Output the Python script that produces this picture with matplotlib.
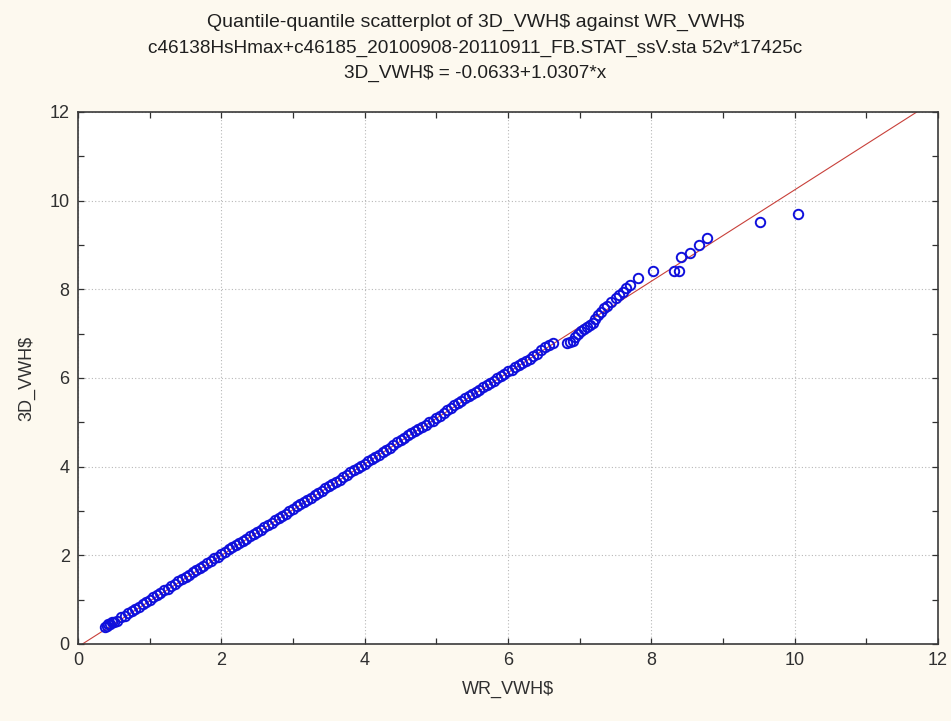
import matplotlib
matplotlib.use("Agg")
import matplotlib.pyplot as plt
import numpy as np
from matplotlib.ticker import MultipleLocator

# Quantile-quantile points
wr_vwh = [0.37, 0.40, 0.42, 0.45, 0.47, 0.50, 0.55, 0.60, 0.65, 0.70, 0.75, 0.80, 0.85, 0.90, 0.95,
          1.00, 1.05, 1.10, 1.15, 1.20, 1.25, 1.30, 1.35, 1.40, 1.45, 1.50, 1.55,
          1.60, 1.65, 1.70, 1.75, 1.80, 1.85, 1.90, 1.95, 2.00,
          2.05, 2.10, 2.15, 2.20, 2.25, 2.30, 2.35, 2.40, 2.45, 2.50, 2.55, 2.60,
          2.65, 2.70, 2.75, 2.80, 2.85, 2.90, 2.95, 3.00,
          3.05, 3.10, 3.15, 3.20, 3.25, 3.30, 3.35, 3.40, 3.45, 3.50, 3.55, 3.60,
          3.65, 3.70, 3.75, 3.80, 3.85, 3.90, 3.95, 4.00,
          4.05, 4.10, 4.15, 4.20, 4.25, 4.30, 4.35, 4.40, 4.45, 4.50, 4.55, 4.60,
          4.65, 4.70, 4.75, 4.80, 4.85, 4.90, 4.95, 5.00,
          5.05, 5.10, 5.15, 5.20, 5.25, 5.30, 5.35, 5.40, 5.45, 5.50, 5.55, 5.60,
          5.65, 5.70, 5.75, 5.80, 5.85, 5.90, 5.95, 6.00,
          6.05, 6.10, 6.15, 6.20, 6.25, 6.30, 6.35, 6.40, 6.46, 6.52, 6.57, 6.63,
          6.82, 6.86, 6.90, 6.94, 6.98, 7.02, 7.06, 7.10, 7.14, 7.18, 7.22, 7.26,
          7.30, 7.34, 7.38, 7.44, 7.50, 7.55, 7.60, 7.65, 7.70, 7.82, 8.03, 8.32,
          8.38, 8.41, 8.54, 8.66, 8.77, 9.52, 10.04]

d3_vwh = [0.39, 0.40, 0.46, 0.44, 0.50, 0.49, 0.53, 0.60, 0.64, 0.70, 0.74, 0.80, 0.84, 0.90, 0.95,
          1.00, 1.05, 1.11, 1.15, 1.21, 1.25, 1.31, 1.36, 1.42, 1.46, 1.52, 1.56,
          1.62, 1.67, 1.72, 1.77, 1.83, 1.87, 1.93, 1.97, 2.03,
          2.08, 2.14, 2.18, 2.23, 2.27, 2.33, 2.37, 2.43, 2.48, 2.53, 2.58, 2.63,
          2.68, 2.74, 2.79, 2.84, 2.88, 2.94, 2.99, 3.05,
          3.11, 3.16, 3.20, 3.25, 3.30, 3.36, 3.40, 3.46, 3.51, 3.57, 3.61, 3.66,
          3.71, 3.77, 3.81, 3.87, 3.92, 3.97, 4.02, 4.07,
          4.12, 4.17, 4.22, 4.27, 4.33, 4.38, 4.43, 4.49, 4.55, 4.60, 4.65, 4.71,
          4.76, 4.80, 4.85, 4.90, 4.94, 5.00, 5.04, 5.09,
          5.15, 5.21, 5.27, 5.33, 5.38, 5.43, 5.49, 5.55, 5.59, 5.64, 5.69, 5.74,
          5.80, 5.85, 5.89, 5.94, 5.99, 6.05, 6.10, 6.15,
          6.19, 6.24, 6.29, 6.33, 6.38, 6.43, 6.49, 6.55, 6.64, 6.70, 6.74, 6.80,
          6.80, 6.82, 6.84, 6.92, 7.00, 7.06, 7.10, 7.14, 7.20, 7.25, 7.32, 7.42,
          7.50, 7.57, 7.62, 7.72, 7.80, 7.87, 7.95, 8.03, 8.10, 8.25, 8.42, 8.42,
          8.41, 8.72, 8.83, 9.00, 9.15, 9.53, 9.71]

fit_intercept = -0.0633
fit_slope = 1.0307

title_lines = ["Quantile-quantile scatterplot of 3D_VWH$ against WR_VWH$",
               "c46138HsHmax+c46185_20100908-20110911_FB.STAT_ssV.sta 52v*17425c",
               "3D_VWH$ = -0.0633+1.0307*x"]
x_label = "WR_VWH$"
y_label = "3D_VWH$"

plt.rcParams['text.parse_math'] = False
plt.rcParams['font.family'] = ["Liberation Sans", "DejaVu Sans"]

bg = "#fdf9ef"
fig = plt.figure(figsize=(9.51, 7.21), dpi=100, facecolor=bg)
ax = fig.add_axes([78/951, 1-644/721, (938-78)/951, (644-112)/721])
ax.set_facecolor("white")

ax.set_xlim(0, 12)
ax.set_ylim(0, 12)

# fit line
xl = np.array([0.0, 12.0])
ax.plot(xl, fit_intercept + fit_slope * xl, color="#c8403a", lw=0.8, zorder=2)

ax.plot(wr_vwh, d3_vwh, linestyle="none", marker="o", markersize=6.8,
        markerfacecolor="none", markeredgecolor="#1010dc", markeredgewidth=1.4,
        zorder=3)

ax.xaxis.set_major_locator(MultipleLocator(2))
ax.yaxis.set_major_locator(MultipleLocator(2))
ax.xaxis.set_minor_locator(MultipleLocator(1))
ax.yaxis.set_minor_locator(MultipleLocator(1))
ax.grid(True, which="major", linestyle=(0, (1, 2)), color="#b8b8b8", lw=0.8)
ax.set_axisbelow(True)
ax.tick_params(which="both", direction="in", top=True, right=True,
               length=4, width=0.9, color="#303030", labelsize=13,
               labelcolor="#303030", pad=6)
for s in ax.spines.values():
    s.set_color("#3a3a3a")
    s.set_linewidth(1.2)

ax.set_xlabel(x_label, fontsize=13, color="#303030", labelpad=8)
ax.set_ylabel(y_label, fontsize=13, color="#303030", labelpad=10)

title_sizes = [14.0, 13.7, 13.7]
for t, yp, fs in zip(title_lines, [22, 48, 73], title_sizes):
    fig.text(0.5, 1 - yp/721, t, ha="center", va="center", fontsize=fs,
             color="#202020")

fig.savefig("out.png", dpi=100, facecolor=bg)
